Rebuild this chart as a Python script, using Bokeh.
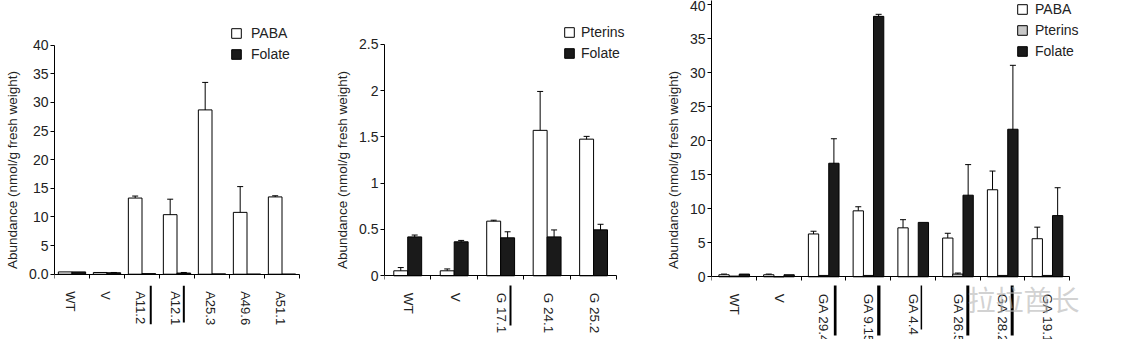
from bokeh.plotting import figure
from bokeh.models import (Range1d, FixedTicker, ColumnDataSource, Whisker, TeeHead,
                          Legend, LegendItem, Label)
from bokeh.layouts import row
from bokeh.embed import file_html
from bokeh.resources import INLINE

# ---------------- data ----------------
p1_cats = ["WT", "V", "A11.2", "A12.1", "A25.3", "A49.6", "A51.1"]
p1_paba = [0.4, 0.3, 13.3, 10.4, 28.7, 10.8, 13.5]
p1_paba_err = [0.0, 0.0, 0.35, 2.7, 4.8, 4.5, 0.2]
p1_folate = [0.4, 0.25, 0.1, 0.2, 0.05, 0.0, 0.0]
p1_folate_err = [0.0, 0.05, 0.0, 0.1, 0.0, 0.0, 0.0]

p2_cats = ["WT", "V", "G 17.1", "G 24.1", "G 25.2"]
p2_pterins = [0.054, 0.054, 0.59, 1.57, 1.475]
p2_pterins_err = [0.035, 0.02, 0.01, 0.42, 0.03]
p2_folate = [0.42, 0.367, 0.41, 0.42, 0.496]
p2_folate_err = [0.02, 0.015, 0.065, 0.075, 0.06]

p3_cats = ["WT", "V", "GA 29.4", "GA 9.15", "GA 4.4", "GA 26.5", "GA 28.2", "GA 19.1"]
p3_paba = [0.3, 0.3, 6.3, 9.7, 7.2, 5.7, 12.8, 5.6]
p3_paba_err = [0.1, 0.1, 0.4, 0.6, 1.2, 0.7, 2.75, 1.7]
p3_pterins = [0.1, 0.0, 0.2, 0.2, 0.05, 0.4, 0.2, 0.2]
p3_pterins_err = [0.0, 0.0, 0.0, 0.0, 0.0, 0.15, 0.0, 0.0]
p3_folate = [0.4, 0.3, 16.7, 38.3, 8.0, 12.0, 21.7, 9.0]
p3_folate_err = [0.0, 0.0, 3.6, 0.3, 0.0, 4.5, 9.4, 4.1]

y_title = "Abundance (nmol/g fresh weight)"
watermark = "拉拉酋长"

FONT = "Liberation Sans"
TXT = "#222222"
WHITE = "#ffffff"
BLACK = "#1a1a1a"
GREY = "#c8c8c8"
H = 339


def panel(cats, series, offsets, bar_w, W, left, group_px, y0_px, ppu, yticks, y_over,
          y_top_bound, leg_loc, leg_standoff, marks, label_shift, xfont):
    n = len(cats)
    frame_w = W - left
    x_end = frame_w / group_px
    y_end = y0_px / ppu
    y_start = -(H - y0_px) / ppu
    p = figure(width=W, height=H, x_range=Range1d(0, x_end), y_range=Range1d(y_start, y_end),
               output_backend="svg", toolbar_location=None,
               min_border_left=left, min_border_right=0,
               min_border_top=0, min_border_bottom=0)
    p.outline_line_color = None
    p.xgrid.visible = False
    p.ygrid.visible = False
    p.background_fill_color = "white"

    items = []
    for (name, vals, errs, color), off in zip(series, offsets):
        xs = [i + 0.5 + off for i in range(n)]
        src = ColumnDataSource(dict(x=xs, top=vals))
        r = p.vbar(x="x", top="top", bottom=0, width=bar_w, source=src,
                   fill_color=color, line_color="black", line_width=1)
        items.append(LegendItem(label=name, renderers=[r]))
        ex = [x for x, e in zip(xs, errs) if e > 0]
        lo = [v - e for v, e in zip(vals, errs) if e > 0]
        up = [v + e for v, e in zip(vals, errs) if e > 0]
        if ex:
            wsrc = ColumnDataSource(dict(base=ex, lower=lo, upper=up))
            w = Whisker(base="base", lower="lower", upper="upper", source=wsrc,
                        line_color="black", line_width=1,
                        upper_head=TeeHead(size=6, line_color="black", line_width=1),
                        lower_head=TeeHead(size=6, line_color="black", line_width=1))
            p.add_layout(w)

    leg = Legend(items=items, location=leg_loc, border_line_color=None,
                 background_fill_alpha=0, padding=0, margin=0, spacing=5,
                 glyph_width=12, glyph_height=12, label_height=12,
                 label_standoff=leg_standoff,
                 label_text_font=FONT, label_text_font_size="14px",
                 label_text_color=TXT)
    p.add_layout(leg)

    # y axis
    ya = p.yaxis[0]
    ya.ticker = FixedTicker(ticks=yticks)
    ya.major_label_overrides = y_over
    ya.bounds = (0, y_top_bound if y_top_bound is not None else y_end)
    ya.minor_tick_line_color = None
    ya.major_tick_out = 4
    ya.major_tick_in = 0
    ya.major_label_standoff = 2
    ya.axis_line_color = "black"
    ya.major_tick_line_color = "black"
    ya.major_label_text_font = FONT
    ya.major_label_text_font_size = "14px"
    ya.major_label_text_color = TXT
    ya.axis_label = y_title
    ya.axis_label_text_font = FONT
    ya.axis_label_text_font_style = "normal"
    ya.axis_label_text_font_size = "13.5px"
    ya.axis_label_text_color = TXT
    ya.axis_label_standoff = 6

    # x axis, pinned at y = 0
    xa = p.xaxis[0]
    xa.fixed_location = 0
    xa.bounds = (0, n)
    label_ticks = [i + 0.5 + label_shift for i in range(n)]
    xa.ticker = FixedTicker(ticks=label_ticks, minor_ticks=list(range(n + 1)))
    xa.major_label_overrides = {c: lab for c, lab in zip(label_ticks, cats)}
    xa.major_tick_line_color = None
    xa.major_tick_out = 4
    xa.major_tick_in = 0
    xa.minor_tick_out = 4
    xa.minor_tick_in = 0
    xa.minor_tick_line_color = "black"
    xa.axis_line_color = "black"
    xa.major_label_orientation = "vertical"
    xa.major_label_standoff = 13
    xa.major_label_text_font = FONT
    xa.major_label_text_font_size = xfont
    xa.major_label_text_color = TXT

    # underline marks beside selected labels (pixel offsets below the axis)
    for idx, dx, px0, px1, lw in marks:
        x = idx + 0.5 + dx
        p.segment(x0=[x], y0=[-px0 / ppu], x1=[x], y1=[-px1 / ppu],
                  line_width=lw, line_color="black")
    return p


p1 = panel(p1_cats,
           [("PABA", p1_paba, p1_paba_err, WHITE), ("Folate", p1_folate, p1_folate_err, BLACK)],
           [-0.195, 0.195], 0.39, 330, 54, 35.0, 273.7, 5.725,
           [0, 5, 10, 15, 20, 25, 30, 35, 40], {0: "0.0"}, 40,
           (176, 277), 9,
           [(2, 0.25, 11.6, 50.0, 2), (3, 0.195, 11.6, 48.3, 2)],
           -0.057, "13px")

p2 = panel(p2_cats,
           [("Pterins", p2_pterins, p2_pterins_err, WHITE), ("Folate", p2_folate, p2_folate_err, BLACK)],
           [-0.15, 0.15], 0.3, 330, 54, 46.46, 275.3, 92.64,
           [0, 0.5, 1, 1.5, 2, 2.5], {0: "0", 1: "1", 2: "2"}, 2.5,
           (179, 278), 6,
           [(2, 0.212, 9.7, 49.7, 2)],
           0.02, "13.5px")

p3 = panel(p3_cats,
           [("PABA", p3_paba, p3_paba_err, WHITE), ("Pterins", p3_pterins, p3_pterins_err, GREY),
            ("Folate", p3_folate, p3_folate_err, BLACK)],
           [-0.22, 0.005, 0.235], 0.23, 447, 51, 44.75, 276.3, 6.8,
           [0, 5, 10, 15, 20, 25, 30, 35, 40], {}, None,
           (305, 280), 7,
           [(2, 0.264, 8.7, 58.7, 2.7), (3, 0.239, 8.7, 58.7, 3.3), (4, 0.19, 8.7, 52.7, 1.5),
            (5, 0.228, 8.7, 58.7, 3), (6, 0.219, 8.7, 58.7, 3)],
           0.01, "13.5px")

# faint watermark over the third panel's labels
p3.add_layout(Label(x=5.72, y=-21.7 / 6.8, text=watermark, text_font="Noto Sans CJK SC",
                    text_font_size="28px", text_color="#b4b4b4", text_alpha=0.6,
                    text_baseline="middle", text_align="left"))

layout = row(p1, p2, p3)
open("out.html", "w").write(file_html(layout, INLINE))
